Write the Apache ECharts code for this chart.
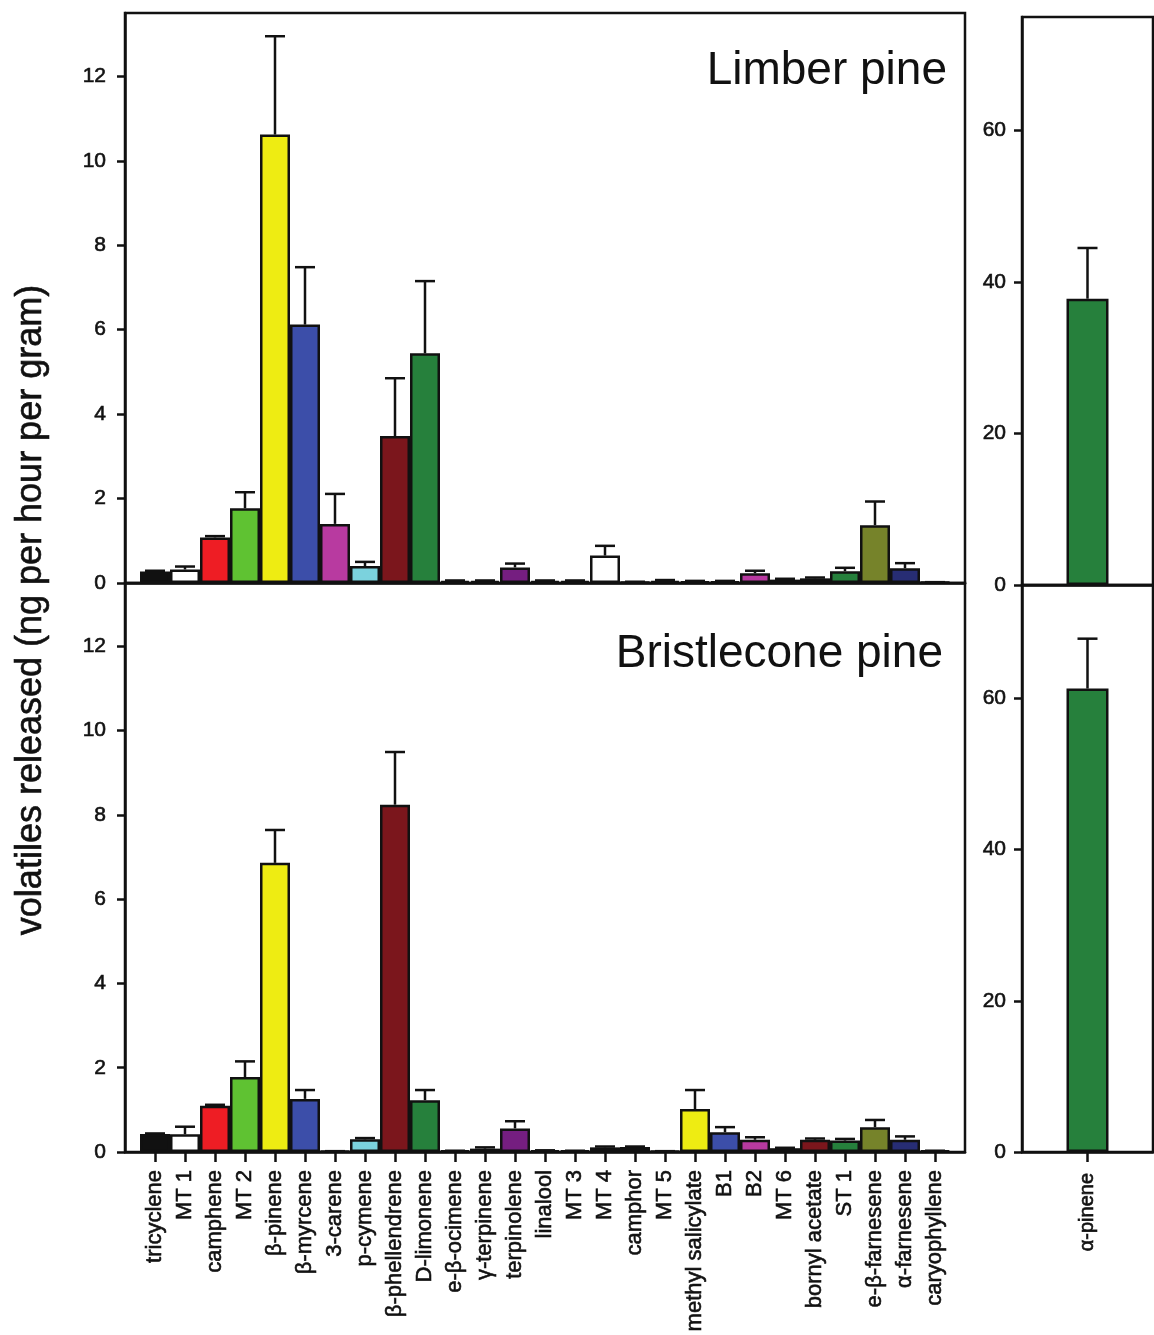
<!DOCTYPE html>
<html>
<head>
<meta charset="utf-8">
<title>Volatiles released – Limber pine and Bristlecone pine</title>
<script src="https://cdn.jsdelivr.net/npm/echarts@6/dist/echarts.min.js"></script>
<style>
  html, body { margin: 0; padding: 0; background: #fff; }
  #chart { width: 1154px; height: 1335px; }
</style>
</head>
<body>
<div id="chart"></div>
<script>
// Compounds shown on the shared x axis (left panels)
const categories = [
  'tricyclene', 'MT 1', 'camphene', 'MT 2', 'β-pinene', 'β-myrcene', '3-carene',
  'p-cymene', 'β-phellendrene', 'D-limonene', 'e-β-ocimene', 'γ-terpinene',
  'terpinolene', 'linalool', 'MT 3', 'MT 4', 'camphor', 'MT 5', 'methyl salicylate',
  'B1', 'B2', 'MT 6', 'bornyl acetate', 'ST 1', 'e-β-farnesene', 'α-farnesene',
  'caryophyllene'
];

// Limber pine: mean emission and upper error (ng per hour per gram)
const limberMeans = [
  0.27, 0.32, 1.08, 1.77, 10.62, 6.12, 1.40, 0.40, 3.48, 5.44, 0.05, 0.05,
  0.37, 0.05, 0.05, 0.65, 0.02, 0.05, 0.04, 0.04, 0.23, 0.08, 0.11, 0.28,
  1.37, 0.35, 0.02
];
const limberErrors = [
  0.02, 0.07, 0.03, 0.38, 2.33, 1.36, 0.71, 0.10, 1.37, 1.71, 0.01, 0.01,
  0.09, 0.01, 0.01, 0.23, 0.01, 0.02, 0.01, 0.01, 0.06, 0.02, 0.02, 0.08,
  0.56, 0.12, 0.00
];

// Bristlecone pine: mean emission and upper error
const bristleMeans = [
  0.43, 0.42, 1.10, 1.78, 6.86, 1.26, 0.02, 0.30, 8.24, 1.23, 0.03, 0.08,
  0.56, 0.04, 0.03, 0.11, 0.12, 0.02, 1.02, 0.47, 0.29, 0.09, 0.29, 0.27,
  0.59, 0.29, 0.03
];
const bristleErrors = [
  0.01, 0.18, 0.02, 0.37, 0.78, 0.21, 0.00, 0.03, 1.25, 0.24, 0.00, 0.03,
  0.17, 0.00, 0.00, 0.02, 0.01, 0.00, 0.45, 0.12, 0.06, 0.01, 0.03, 0.04,
  0.17, 0.08, 0.00
];

// α-pinene is plotted on its own, larger scale (right panels)
const alphaCategory = ['α-pinene'];
const alphaLimber = [37.8];
const alphaLimberErr = [6.7];
const alphaBristle = [61.3];
const alphaBristleErr = [6.6];

// Tick labels
const leftTicks = [0, 2, 4, 6, 8, 10, 12];
const rightTicks = [0, 20, 40, 60];

// Fill colour per compound
const palette = [
  '#111111', '#ffffff', '#ee1d24', '#5fc232', '#eeec12', '#3c4ea9', '#b83aa0',
  '#7bd2dd', '#7b161c', '#26803c', '#76832a', '#272d74', '#751e80', '#222222',
  '#111111', '#ffffff', '#ee1d24', '#5fc232', '#eeec12', '#3c4ea9', '#b83aa0',
  '#7bd2dd', '#7b161c', '#26803c', '#76832a', '#272d74', '#751e80'
];
const alphaColor = '#26803c';

const FONT = '"Liberation Sans", Arial, Helvetica, sans-serif';
const BLACK = '#111';
const LW = 2.5;
const catIdx = categories.map((_, i) => i);

// slightly heavier glyphs for axis text
const heavy = { textBorderColor: BLACK, textBorderWidth: 0.6 };

const chart = echarts.init(document.getElementById('chart'), null, { renderer: 'canvas' });

// Upper error whisker with a horizontal cap
function errorBar(params, api) {
  const x = api.value(0);
  const v = api.value(1);
  const e = api.value(2);
  const base = api.coord([x, v]);
  const top = api.coord([x, v + e]);
  const style = { stroke: BLACK, lineWidth: LW };
  return {
    type: 'group',
    children: [
      { type: 'line', shape: { x1: base[0], y1: base[1], x2: top[0], y2: top[1] }, style },
      { type: 'line', shape: { x1: top[0] - 10, y1: top[1], x2: top[0] + 10, y2: top[1] }, style }
    ]
  };
}

const axisLine = { show: true, onZero: false, lineStyle: { color: BLACK, width: LW } };
const gridBorder = { show: true, borderColor: BLACK, borderWidth: LW, backgroundColor: 'transparent' };

function leftY(gridIndex) {
  return {
    gridIndex, type: 'value', min: 0, max: 13.5,
    axisLine,
    axisTick: { show: true, inside: false, length: 8, customValues: leftTicks, lineStyle: { color: BLACK, width: LW } },
    axisLabel: Object.assign({ customValues: leftTicks, color: BLACK, fontSize: 21, fontFamily: FONT, margin: 19 }, heavy),
    splitLine: { show: false }
  };
}
function rightY(gridIndex) {
  return {
    gridIndex, type: 'value', min: 0, max: 75,
    axisLine,
    axisTick: { show: true, inside: false, length: 8, customValues: rightTicks, lineStyle: { color: BLACK, width: LW } },
    axisLabel: Object.assign({ customValues: rightTicks, color: BLACK, fontSize: 21, fontFamily: FONT, margin: 16 }, heavy),
    splitLine: { show: false }
  };
}

function barSeries(axisIndex, means) {
  return {
    type: 'bar', xAxisIndex: axisIndex, yAxisIndex: axisIndex,
    barWidth: 30,
    data: means.map((v, i) => [i, v]),
    itemStyle: { color: p => palette[p.dataIndex], borderColor: BLACK, borderWidth: LW }
  };
}
function errSeries(axisIndex, means, errs) {
  return {
    type: 'custom', xAxisIndex: axisIndex, yAxisIndex: axisIndex,
    renderItem: errorBar,
    data: means.map((v, i) => [i, v, errs[i]]),
    z: 3
  };
}

const option = {
  animation: false,
  backgroundColor: '#fff',
  grid: [
    Object.assign({ left: 125, top: 13, width: 840, height: 570 }, gridBorder),
    Object.assign({ left: 125, top: 583, width: 840, height: 569 }, gridBorder),
    Object.assign({ left: 1022, top: 17, width: 131, height: 568 }, gridBorder),
    Object.assign({ left: 1022, top: 585, width: 131, height: 567 }, gridBorder)
  ],
  xAxis: [
    {
      gridIndex: 0, type: 'value', min: -1, max: 27,
      axisLine, axisTick: { show: false }, axisLabel: { show: false }, splitLine: { show: false }
    },
    {
      gridIndex: 1, type: 'value', min: -1, max: 27,
      axisLine,
      axisTick: { show: true, inside: false, length: 10, customValues: catIdx, lineStyle: { color: BLACK, width: LW } },
      axisLabel: Object.assign({
        customValues: catIdx, formatter: v => categories[v] || '',
        rotate: 90, color: BLACK, fontSize: 22, fontFamily: FONT, margin: 18
      }, heavy),
      splitLine: { show: false }
    },
    {
      gridIndex: 2, type: 'category', data: alphaCategory,
      axisLine, axisTick: { show: false }, axisLabel: { show: false }
    },
    {
      gridIndex: 3, type: 'category', data: alphaCategory,
      axisLine,
      axisTick: { show: true, alignWithLabel: true, length: 10, lineStyle: { color: BLACK, width: LW } },
      axisLabel: Object.assign({ rotate: 90, color: BLACK, fontSize: 20, fontFamily: FONT, margin: 21 }, heavy)
    }
  ],
  yAxis: [leftY(0), leftY(1), rightY(2), rightY(3)],
  series: [
    barSeries(0, limberMeans),
    errSeries(0, limberMeans, limberErrors),
    barSeries(1, bristleMeans),
    errSeries(1, bristleMeans, bristleErrors),
    {
      type: 'bar', xAxisIndex: 2, yAxisIndex: 2, barWidth: 42,
      data: alphaLimber,
      itemStyle: { color: alphaColor, borderColor: BLACK, borderWidth: LW }
    },
    {
      type: 'custom', xAxisIndex: 2, yAxisIndex: 2, renderItem: errorBar, z: 3,
      data: alphaLimber.map((v, i) => [i, v, alphaLimberErr[i]])
    },
    {
      type: 'bar', xAxisIndex: 3, yAxisIndex: 3, barWidth: 42,
      data: alphaBristle,
      itemStyle: { color: alphaColor, borderColor: BLACK, borderWidth: LW }
    },
    {
      type: 'custom', xAxisIndex: 3, yAxisIndex: 3, renderItem: errorBar, z: 3,
      data: alphaBristle.map((v, i) => [i, v, alphaBristleErr[i]])
    }
  ],
  graphic: [
    {
      type: 'text', x: 947, y: 71,
      style: { text: 'Limber pine', font: '46px ' + FONT, fill: BLACK, textAlign: 'right', textVerticalAlign: 'middle' }
    },
    {
      type: 'text', x: 943, y: 654,
      style: { text: 'Bristlecone pine', font: '46px ' + FONT, fill: BLACK, textAlign: 'right', textVerticalAlign: 'middle' }
    },
    {
      type: 'text', x: 31, y: 610, rotation: Math.PI / 2,
      style: { text: 'volatiles released (ng per hour per gram)', font: '36px ' + FONT, fill: BLACK, textAlign: 'center', textVerticalAlign: 'middle', stroke: BLACK, lineWidth: 0.6 }
    }
  ]
};

chart.setOption(option);
</script>
</body>
</html>
